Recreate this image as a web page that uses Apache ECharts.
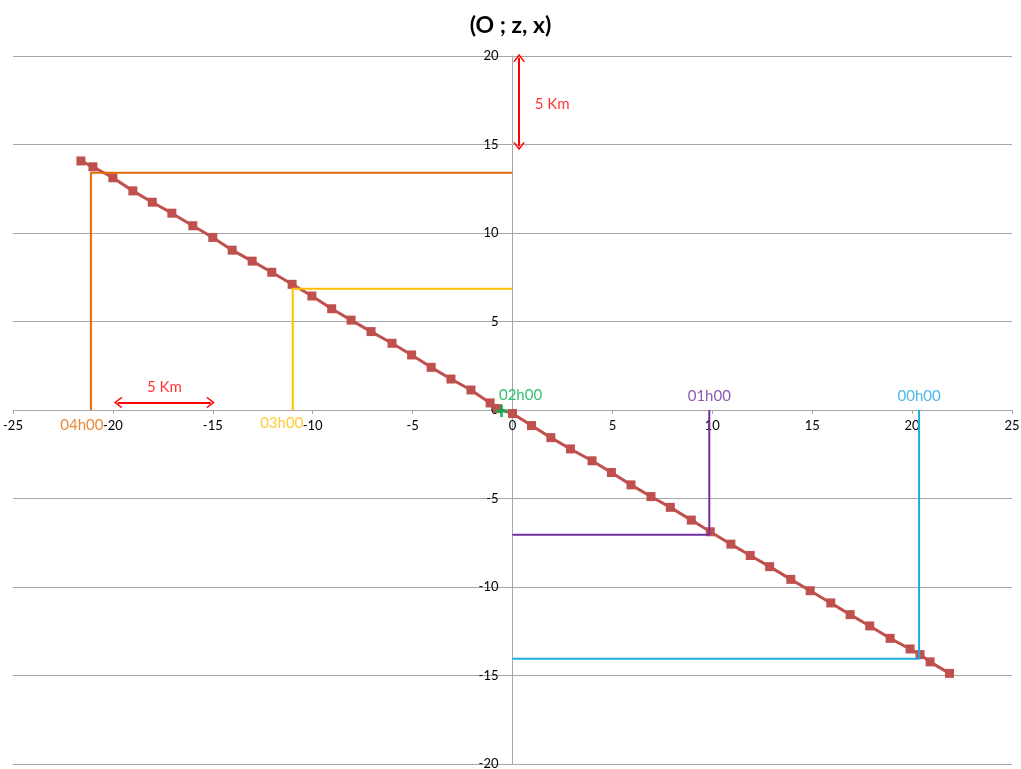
<!DOCTYPE html>
<html>
<head>
<meta charset="utf-8">
<script src="https://cdn.jsdelivr.net/npm/echarts@6/dist/echarts.min.js"></script>
<style>
html,body{margin:0;padding:0;background:#fff;}
#chart{width:1021px;height:769px;}
</style>
</head>
<body>
<div id="chart"></div>
<script>
// Trajectory points (x, z)
const xVals = [21.87, 20.9, 20.4, 19.9, 18.9, 17.88, 16.9, 15.93, 14.9, 13.93, 12.87, 11.9, 10.93, 9.9, 8.95, 7.9, 6.93, 5.93, 4.95, 3.98, 2.9, 1.92, 0.95, 0.0, -0.75, -1.12, -2.08, -3.08, -4.07, -5.05, -6.03, -7.08, -8.08, -9.05, -10.04, -11.03, -12.05, -13.03, -14.03, -15.0, -16.0, -17.05, -18.03, -19.0, -20.0, -21.0, -21.6];
const yVals = [-14.88, -14.23, -13.82, -13.5, -12.9, -12.2, -11.56, -10.9, -10.21, -9.57, -8.85, -8.22, -7.58, -6.88, -6.22, -5.5, -4.89, -4.23, -3.53, -2.87, -2.2, -1.56, -0.88, -0.2, 0.08, 0.4, 1.13, 1.75, 2.41, 3.11, 3.77, 4.43, 5.08, 5.72, 6.44, 7.1, 7.78, 8.41, 9.03, 9.75, 10.41, 11.12, 11.74, 12.38, 13.12, 13.74, 14.07];

// Hour marks
const hourLabels = ['00h00', '01h00', '02h00', '03h00', '04h00'];
const hourX = [20.35, 9.85, -0.55, -11.0, -21.1];
const hourY = [-14.05, -7.05, -0.05, 6.85, 13.4];

// Scale arrows (5 Km)
const arrowLabel = '5 Km';
const arrowStart = [[0.33, 19.9], [-19.75, 0.42]];
const arrowEnd = [[0.33, 14.9], [-15.1, 0.42]];

// Axis ticks
const xTicks = [-25, -20, -15, -10, -5, 0, 5, 10, 15, 20, 25];
const yTicks = [-20, -15, -10, -5, 0, 5, 10, 15, 20];

const FONT = 'Lato';
const W = 1021, H = 769;
const G = {left: 13, right: 9, top: 56, bottom: 5};
const gridW = W - G.left - G.right;
const gridH = H - G.top - G.bottom;
const xMin = xTicks[0], xMax = xTicks[xTicks.length - 1];
const yMin = yTicks[0], yMax = yTicks[yTicks.length - 1];
// shift axes so they cross at the origin (with labels)
const xAxisOffset = -gridH * (0 - yMin) / (yMax - yMin);
const yAxisOffset = -gridW * (0 - xMin) / (xMax - xMin);

const hourColors = ['#1fa9e1', '#7030a0', '#00b050', '#ffc000', '#e46c0a'];
const hourLabelStyle = [
  {position: 'top', offset: [0, 0]},
  {position: 'top', offset: [0, 0]},
  {position: 'top', offset: [19, -1]},
  {position: 'bottom', offset: [-11, 0]},
  {position: 'bottom', offset: [-9, 2]}
];
const arrowLabelStyle = [
  {offset: [33, 2]},
  {offset: [0, -15]}
];

const series = [];

series.push({
  type: 'line',
  name: 'trajectory',
  data: xVals.map((x, i) => [x, yVals[i]]),
  symbol: 'rect',
  symbolSize: 9,
  lineStyle: {color: '#c0504d', width: 3},
  itemStyle: {color: '#c0504d'},
  z: 2,
  animation: false
});

hourLabels.forEach((lab, i) => {
  if (lab === '02h00') return;
  series.push({
    type: 'line',
    data: [[hourX[i], 0], [hourX[i], hourY[i]], [0, hourY[i]]],
    showSymbol: false,
    symbol: 'none',
    lineStyle: {color: hourColors[i], width: 2},
    z: 3,
    animation: false,
    silent: true
  });
});

// green + marker for 02h00
const plusIdx = hourLabels.indexOf('02h00');
series.push({
  type: 'scatter',
  data: [[hourX[plusIdx], hourY[plusIdx]]],
  symbol: 'path://M4.5,0 H7.5 V4.5 H12 V7.5 H7.5 V12 H4.5 V7.5 H0 V4.5 H4.5 Z',
  symbolSize: 12,
  itemStyle: {color: hourColors[plusIdx]},
  z: 4,
  animation: false
});

// hour labels
series.push({
  type: 'scatter',
  symbolSize: 0,
  z: 5,
  animation: false,
  data: hourLabels.map((lab, i) => ({
    value: [hourX[i], 0],
    name: lab,
    label: {
      show: true,
      formatter: lab,
      position: hourLabelStyle[i].position,
      offset: hourLabelStyle[i].offset,
      color: hourColors[i],
      fontFamily: FONT,
      fontSize: 15,
      distance: 6
    }
  }))
});

// arrows
series.push({
  type: 'line',
  data: [],
  animation: false,
  markLine: {
    silent: true,
    animation: false,
    symbol: ['path://M0,8 L6,0 L12,8 L10.2,8 L6,2.4 L1.8,8 Z', 'path://M0,8 L6,0 L12,8 L10.2,8 L6,2.4 L1.8,8 Z'],
    symbolSize: [12, 8],
    lineStyle: {color: '#ff0000', width: 2, type: 'solid'},
    label: {show: false},
    data: arrowStart.map((s, i) => [{coord: s}, {coord: arrowEnd[i]}])
  }
});

// arrow labels
series.push({
  type: 'scatter',
  symbolSize: 0,
  z: 5,
  animation: false,
  data: arrowStart.map((s, i) => ({
    value: [(s[0] + arrowEnd[i][0]) / 2, (s[1] + arrowEnd[i][1]) / 2],
    label: {
      show: true,
      formatter: arrowLabel,
      position: 'inside',
      offset: arrowLabelStyle[i].offset,
      color: '#ff0000',
      fontFamily: FONT,
      fontSize: 15
    }
  }))
});

const chart = echarts.init(document.getElementById('chart'), null, {renderer: 'canvas'});
chart.setOption({
  backgroundColor: '#ffffff',
  animation: false,
  title: {
    text: '(O ; z, x)',
    left: 'center',
    top: 9,
    textStyle: {fontFamily: FONT, fontSize: 23, fontWeight: 'bold', color: '#000'}
  },
  grid: {left: G.left, right: G.right, top: G.top, bottom: G.bottom, containLabel: false, outerBoundsMode: 'none'},
  xAxis: {
    type: 'value',
    min: xMin,
    max: xMax,
    interval: xTicks[1] - xTicks[0],
    position: 'bottom',
    offset: xAxisOffset,
    axisLine: {onZero: false, lineStyle: {color: '#a6a6a6', width: 1}},
    axisTick: {show: true, length: 4, lineStyle: {color: '#a6a6a6'}},
    axisLabel: {color: '#000', fontFamily: FONT, fontSize: 13, margin: 9, showMinLabel: true, showMaxLabel: true},
    splitLine: {show: false}
  },
  yAxis: {
    type: 'value',
    min: yMin,
    max: yMax,
    interval: yTicks[1] - yTicks[0],
    position: 'left',
    offset: yAxisOffset,
    axisLine: {onZero: false, lineStyle: {color: '#a6a6a6', width: 1}},
    axisTick: {show: false},
    axisLabel: {color: '#000', fontFamily: FONT, fontSize: 13, margin: 14, showMinLabel: true, showMaxLabel: true},
    splitLine: {show: true, lineStyle: {color: '#a6a6a6', width: 1}}
  },
  series: series
});
</script>
</body>
</html>
